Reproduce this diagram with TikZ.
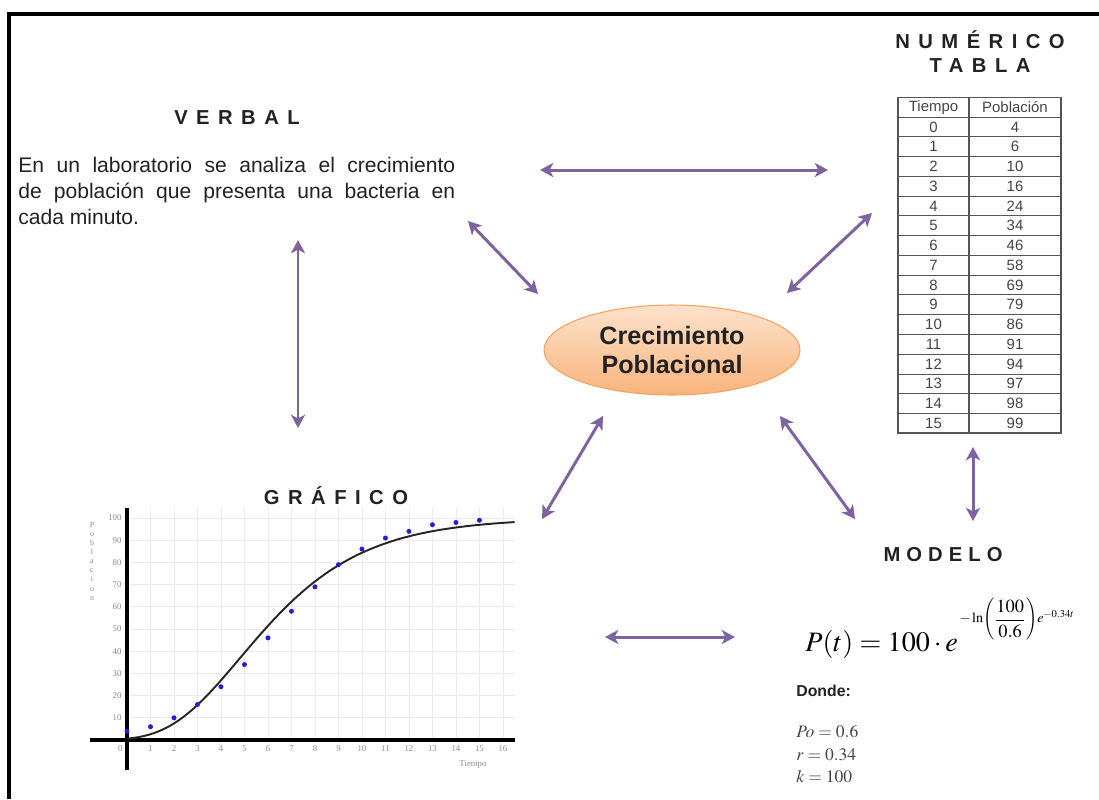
\documentclass[tikz,border=0pt]{standalone}
\usepackage{mathptmx}
\usepackage[no-math]{fontspec}
\setmainfont{Liberation Sans}
\newfontfamily\tickfont{Liberation Serif}
\usetikzlibrary{arrows.meta,shapes.geometric}
\definecolor{arrowpurple}{HTML}{7F63A1}
\definecolor{ellborder}{HTML}{F5A35C}
\definecolor{elltop}{HTML}{FDE2CC}
\definecolor{ellbot}{HTML}{F8B47C}
\definecolor{gridgray}{HTML}{EBEBEB}
\definecolor{tickgray}{HTML}{8A8A8A}
\definecolor{dotblue}{HTML}{2020D8}
\definecolor{textdark}{HTML}{222222}
\definecolor{tabline}{HTML}{555555}
\definecolor{tabtext}{HTML}{444444}
\tikzset{
  heading/.style={font=\fontsize{11.5}{13}\selectfont\bfseries\addfontfeature{LetterSpace=42}, text=textdark, inner sep=0pt},
  link/.style={draw=arrowpurple, line width=1.7pt, {Stealth[length=7.5pt,width=8pt,inset=2pt]}-{Stealth[length=7.5pt,width=8pt,inset=2pt]}},
  tabcell/.style={font=\fontsize{8.5}{9}\selectfont, text=tabtext, inner sep=0pt},
  gridline/.style={draw=gridgray, line width=0.4pt},
  axisline/.style={draw=black, line width=1.9pt},
  ticklbl/.style={font=\tickfont\fontsize{5}{5}\selectfont, text=tickgray, inner sep=0pt},
  datadot/.style={fill=dotblue, draw=none},
  curveline/.style={draw=black!85, line width=1.1pt},
  mathtext/.style={inner sep=0pt, text=tabtext},
}
\begin{document}
\begin{tikzpicture}[x=0.02cm,y=-0.02cm]
\useasboundingbox (0,0) rectangle (1099,799);
% frame
\draw[line width=0.08cm] (9,799) -- (9,14) -- (1099,14);

% headings
\node[heading] (hverbal) at (237,118) {VERBAL};
\node[heading] (hnum) at (980,40) {NUMÉRICO};
\node[heading] (htabla) at (980,66) {TABLA};
\node[heading] (hgraf) at (336,496) {GRÁFICO};
\node[heading, font=\fontsize{11.5}{13}\selectfont\bfseries\addfontfeature{LetterSpace=30}] (hmodelo) at (943,555) {MODELO};

% verbal text
\node[anchor=north west, text width=8.74cm, align=justify, inner sep=0pt,
      font=\fontsize{12}{14.7}\selectfont, text=textdark] (verbaltext) at (18,157)
  {\hyphenpenalty=10000 En un laboratorio se analiza el crecimiento\linebreak de población que presenta una bacteria en\linebreak cada minuto.};

% central ellipse
\node[ellipse, minimum width=5.12cm, minimum height=1.8cm, top color=elltop, bottom color=ellbot,
      draw=ellborder, line width=0.6pt, align=center, text=textdark,
      font=\fontsize{14.3}{16.4}\selectfont\bfseries] (centre) at (672,350) {Crecimiento\\Poblacional};

% table
\def\tabtop{97.3}
\def\rowh{19.76}
\foreach \i in {1,...,16}
  \draw[tabline, line width=0.5pt] (898,{\tabtop+\rowh*\i}) -- (1061,{\tabtop+\rowh*\i});
\draw[tabline, line width=0.8pt] (969,\tabtop) -- (969,{\tabtop+17*\rowh});
\draw[tabline, line width=0.9pt] (898,\tabtop) rectangle (1061,{\tabtop+17*\rowh});
\node[tabcell] (thead1) at (933.5,{\tabtop+0.5*\rowh}) {Tiempo};
\node[tabcell] (thead2) at (1015,{\tabtop+0.5*\rowh}) {Población};
\foreach \t/\p [count=\r] in {0/4,1/6,2/10,3/16,4/24,5/34,6/46,7/58,8/69,9/79,10/86,11/91,12/94,13/97,14/98,15/99}{
  \node[tabcell] (tt\t) at (933.5,{\tabtop+\rowh*(\r+0.5)}) {\t};
  \node[tabcell] (tp\t) at (1015,{\tabtop+\rowh*(\r+0.5)}) {\p};
}

% graph
\begin{scope}[shift={(127,740)}, x=0.47cm, y=0.0444cm]
  \foreach \i in {1,...,16} \draw[gridline] (\i,0) -- (\i,104.5);
  \foreach \j in {10,20,...,100} \draw[gridline] (0,\j) -- (16.5,\j);
  \draw[axisline] (-1.57,0) -- (16.5,0);
  \draw[axisline] (0,-13.5) -- (0,104.5);
  \node[ticklbl] (xl0) at (-0.28,-4) {0};
  \foreach \i in {1,...,16} \node[ticklbl] (xl\i) at (\i,-4) {\i};
  \foreach \j in {10,20,...,100} \node[ticklbl, anchor=east] (yl\j) at (-0.22,\j) {\j};
  \draw[curveline] plot[domain=0:16.5, samples=120, smooth] (\x,{100*exp(-5.116*exp(-0.34*\x))});
  \foreach \t/\p in {0/4,1/6,2/10,3/16,4/24,5/34,6/46,7/58,8/69,9/79,10/86,11/91,12/94,13/97,14/98,15/99}
    \fill[datadot] (\t,\p) circle (0.05cm);
\end{scope}
\node[ticklbl, align=center, font=\tickfont\fontsize{4.5}{5.2}\selectfont] (ylabel) at (92,561) {P\\o\\b\\l\\a\\c\\i\\o\\n};
\node[ticklbl] (xlabel) at (473,765) {Tiempo};

% model
\node[anchor=base west, inner sep=0pt, text=black] (formula) at (805,651)
  {\fontsize{16}{18}\selectfont$P(t)=100\cdot e$};
\node[anchor=base west, inner sep=0pt, text=black] (expo) at ([xshift=0.6pt,yshift=16pt]formula.base east)
  {\fontsize{8}{9}\selectfont$-\ln\!\left(\vcenter{\hbox{\fontsize{10.5}{11}\selectfont$\displaystyle\frac{100}{0.6}$}}\right)\!e^{-0.34t}$};
\node[anchor=west, inner sep=0pt, text=textdark, font=\fontsize{9}{10}\selectfont\bfseries] (donde) at (796,691) {Donde:};
\node[anchor=base west, mathtext, font=\fontsize{10}{12}\selectfont] (ppo) at (796,737) {$Po=0.6$};
\node[anchor=base west, mathtext, font=\fontsize{10}{12}\selectfont] (pr) at (796,760) {$r=0.34$};
\node[anchor=base west, mathtext, font=\fontsize{10}{12}\selectfont] (pk) at (796,782) {$k=100$};

% connector end points
\coordinate (c1a) at (540,170);  \coordinate (c1b) at (828,170);
\coordinate (c2a) at (468,221);  \coordinate (c2b) at (538,294);
\coordinate (c3a) at (872,213);  \coordinate (c3b) at (787,293);
\coordinate (c4a) at (298,240);  \coordinate (c4b) at (298,428);
\coordinate (c5a) at (603,416);  \coordinate (c5b) at (542,519);
\coordinate (c6a) at (780,416);  \coordinate (c6b) at (855,519);
\coordinate (c7a) at (973,447);  \coordinate (c7b) at (973,521);
\coordinate (c8a) at (605,637);  \coordinate (c8b) at (735,637);
\draw[link] (c1a) -- (c1b);
\draw[link] (c2a) -- (c2b);
\draw[link] (c3a) -- (c3b);
\draw[link] (c4a) -- (c4b);
\draw[link] (c5a) -- (c5b);
\draw[link] (c6a) -- (c6b);
\draw[link] (c7a) -- (c7b);
\draw[link] (c8a) -- (c8b);
\end{tikzpicture}
\end{document}
